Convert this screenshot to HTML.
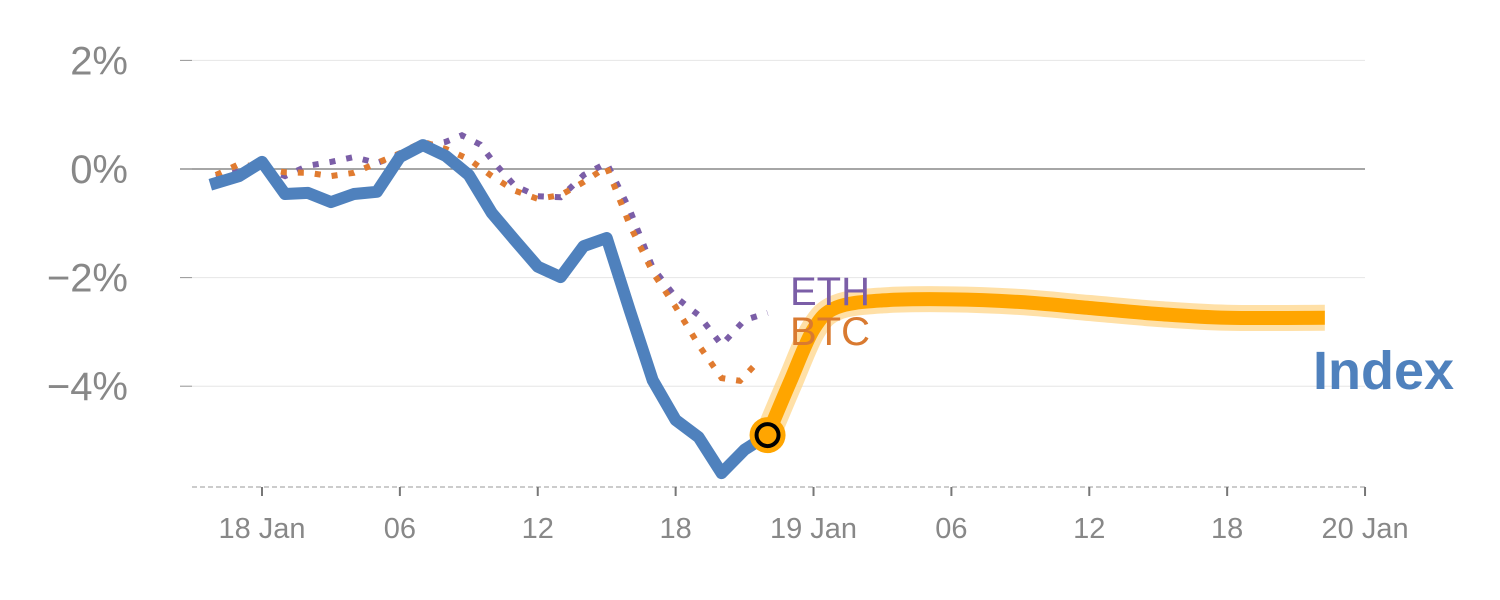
<!DOCTYPE html>
<html><head><meta charset="utf-8"><style>
html,body{margin:0;padding:0;background:#fff;}
svg{display:block;font-family:"Liberation Sans",sans-serif;}
</style></head><body>
<svg id="chart" width="1500" height="600"></svg>
<script>
const hours = [-2.25,-1,0,1,2,3,4,5,6,7,8,9,10,11,12,13,14,15,16,17,18,19,20,21,22];
const indexValues = [-0.29,-0.13,0.13,-0.46,-0.44,-0.61,-0.46,-0.42,0.22,0.44,0.24,-0.11,-0.81,-1.31,-1.80,-1.99,-1.42,-1.27,-2.6,-3.89,-4.62,-4.94,-5.6,-5.17,-4.9];
const ethHours = [-2,-1,0,1,2,3,4,5,6,7,8,8.7,9.5,10,11,12,13,14,15,16,17,18,19,20,21,22];
const ethValues = [-0.15,-0.05,0.04,-0.13,0.06,0.13,0.22,0.11,0.26,0.42,0.5,0.62,0.45,0.17,-0.31,-0.5,-0.52,-0.11,0.11,-0.75,-1.82,-2.36,-2.69,-3.24,-2.78,-2.65];
const btcHours = [-2,-1,0,1,2,3,4,5,6,7,8,9,10,11,12,13,14,15,16,17,18,19,20,20.8,21.7];
const btcValues = [-0.11,0.09,0.02,-0.06,-0.07,-0.13,-0.07,0.11,0.29,0.5,0.37,0.18,-0.13,-0.4,-0.55,-0.48,-0.24,0.04,-1.03,-1.9,-2.54,-3.24,-3.85,-3.9,-3.5];
const fcHours = [22,23,24,25,27,30,33,36,39,42,46.25];
const fcValues = [-4.9,-3.9,-2.95,-2.55,-2.42,-2.40,-2.45,-2.56,-2.67,-2.74,-2.74];
const yTicks = [2,0,-2,-4];
const yTickLabels = ["2%","0%","\u22122%","\u22124%"];
const xTicks = [0,6,12,18,24,30,36,42,48];
const xTickLabels = ["18 Jan","06","12","18","19 Jan","06","12","18","20 Jan"];

const NS="http://www.w3.org/2000/svg";
const svg=document.getElementById('chart');
const x=h=>262+h*22.98;
const y=v=>169-v*54.3;
function mk(tag,attrs,parent){const e=document.createElementNS(NS,tag);for(const k in attrs)e.setAttribute(k,attrs[k]);(parent||svg).appendChild(e);return e;}
function pts(hs,vs){return hs.map((h,i)=>x(h).toFixed(1)+','+y(vs[i]).toFixed(1)).join(' ');}
function smooth(hs,vs){
  const p=hs.map((h,i)=>[x(h),y(vs[i])]);
  let d='M'+p[0][0]+','+p[0][1];
  for(let i=0;i<p.length-1;i++){
    const p0=p[Math.max(0,i-1)],p1=p[i],p2=p[i+1],p3=p[Math.min(p.length-1,i+2)];
    const c1=[p1[0]+(p2[0]-p0[0])/6,p1[1]+(p2[1]-p0[1])/6];
    const c2=[p2[0]-(p3[0]-p1[0])/6,p2[1]-(p3[1]-p1[1])/6];
    d+=' C'+c1.join(',')+' '+c2.join(',')+' '+p2.join(',');
  }
  return d;
}

yTicks.forEach((t,i)=>{
  const g=mk('line',{x1:180,x2:1365,y1:y(t),y2:y(t),stroke:t===0?'#888':'#e6e6e6','stroke-width':t===0?1.5:1});
  
  
  const tk=mk('line',{x1:180,x2:192,y1:y(t),y2:y(t),stroke:'#999','stroke-width':1});
  
  
  const tx=mk('text',{x:128,y:y(t)+14,'text-anchor':'end','font-size':40,fill:'#888'});
  tx.textContent=yTickLabels[i];
  
  
});
const ax=mk('line',{x1:192,x2:1365,y1:487,y2:487,stroke:'#ccc','stroke-width':2,'stroke-dasharray':'5 3'});


xTicks.forEach((t,i)=>{
  const tk=mk('line',{x1:x(t),x2:x(t),y1:487,y2:496,stroke:'#777','stroke-width':2});
  
  
  const tx=mk('text',{x:x(t),y:538,'text-anchor':'middle','font-size':29,fill:'#888'});
  tx.textContent=xTickLabels[i];
  
  
});

const eth=mk('polyline',{points:pts(ethHours,ethValues),fill:'none',stroke:'#7b5ea7','stroke-width':6,'stroke-dasharray':'6 11'});


const btc=mk('polyline',{points:pts(btcHours,btcValues),fill:'none',stroke:'#e07b30','stroke-width':6,'stroke-dasharray':'6 11'});


const idx=mk('polyline',{points:pts(hours,indexValues),fill:'none',stroke:'#4f81bd','stroke-width':12,'stroke-linejoin':'round'});



const fd=smooth(fcHours,fcValues);
const halo=mk('path',{d:fd,fill:'none',stroke:'#ffd58a','stroke-width':26,'opacity':0.75});


const fc=mk('path',{d:fd,fill:'none',stroke:'#ffa500','stroke-width':14});



const last=indexValues.length-1;
const m=mk('circle',{cx:x(hours[last]),cy:y(indexValues[last]),r:18,fill:'#ffa500'});


const mi=mk('circle',{cx:x(hours[last]),cy:y(indexValues[last]),r:11,fill:'none',stroke:'#000','stroke-width':4});



const le=mk('text',{x:790,y:305,'font-size':40,fill:'#7b5ea7'});le.textContent='ETH';


const lb=mk('text',{x:790,y:345,'font-size':40,fill:'#d97a30'});lb.textContent='BTC';


const li=mk('text',{x:1313,y:389,'font-size':54,'font-weight':'bold',fill:'#4f81bd'});li.textContent='Index';


</script>
</body></html>
